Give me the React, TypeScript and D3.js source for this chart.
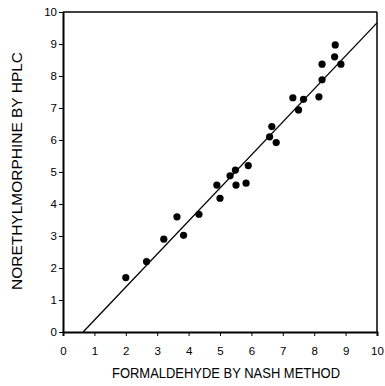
import { useEffect, useRef } from 'react';
import * as d3 from 'd3';

// Nash method (x) vs HPLC (y) values
const nashValues = [2.0, 2.66, 3.21, 3.63, 3.84, 4.33, 5.0, 4.9, 5.32, 5.49, 5.51, 5.83, 5.9, 6.58, 6.79, 6.65, 7.32, 7.5, 7.66, 8.15, 8.25, 8.25, 8.67, 8.65, 8.85];
const hplcValues = [1.7, 2.2, 2.9, 3.6, 3.02, 3.68, 4.18, 4.59, 4.88, 5.06, 4.59, 4.65, 5.2, 6.1, 5.92, 6.42, 7.32, 6.94, 7.27, 7.35, 7.88, 8.37, 8.97, 8.6, 8.37];
const xTicks = [0, 1, 2, 3, 4, 5, 6, 7, 8, 9, 10];
const yTicks = [0, 1, 2, 3, 4, 5, 6, 7, 8, 9, 10];
// fitted line end points (x, y)
const fitLine: [number, number][] = [[0.64, 0], [10, 9.66]];

const App = () => {
    const svgRef = useRef<SVGSVGElement>(null);

    useEffect(() => {
        const width = 385;
        const height = 386;
        const margin = { top: 12, right: 8, bottom: 54, left: 63 };

        const svg = d3.select(svgRef.current)
            .attr('width', width)
            .attr('height', height);
        svg.selectAll('*').remove();

        const x = d3.scaleLinear()
            .domain([0, 10])
            .range([margin.left, width - margin.right]);
        const y = d3.scaleLinear()
            .domain([0, 10])
            .range([height - margin.bottom, margin.top]);

        const font = 'Liberation Sans, Arial, sans-serif';

        // frame
        svg.append('line')
            .attr('x1', x(0)).attr('x2', x(10)).attr('y1', y(10)).attr('y2', y(10))
            .attr('stroke', '#000').attr('stroke-width', 1.5);
        svg.append('line')
            .attr('x1', x(10)).attr('x2', x(10)).attr('y1', y(10)).attr('y2', y(0))
            .attr('stroke', '#000').attr('stroke-width', 1.5);

        // x axis
        const xAxis = svg.append('g')
            .attr('transform', `translate(0,${y(0)})`)
            .call(d3.axisBottom(x).tickValues(xTicks).tickSize(4).tickPadding(11).tickFormat(d3.format('d')));
        xAxis.select('.domain').attr('stroke-width', 2);
        xAxis.selectAll('text')
            .style('font-size', '11.5px')
            .style('font-family', font)
            .style('fill', '#000');

        // y axis
        const yAxis = svg.append('g')
            .attr('transform', `translate(${x(0)},0)`)
            .call(d3.axisLeft(y).tickValues(yTicks).tickSize(4).tickPadding(2).tickSizeOuter(0).tickFormat(d3.format('d')));
        yAxis.select('.domain').attr('stroke-width', 2);
        yAxis.selectAll('text')
            .style('font-size', '11.5px')
            .style('font-family', font)
            .style('fill', '#000');

        // regression line
        svg.append('path')
            .datum(fitLine)
            .attr('fill', 'none')
            .attr('stroke', '#000')
            .attr('stroke-width', 1.3)
            .attr('d', d3.line<[number, number]>().x(d => x(d[0])).y(d => y(d[1])));

        // points
        svg.selectAll('.dot')
            .data(nashValues.map((v, i) => [v, hplcValues[i]]))
            .enter().append('circle')
            .attr('class', 'dot')
            .attr('cx', d => x(d[0]))
            .attr('cy', d => y(d[1]))
            .attr('r', 3.6)
            .attr('fill', '#000');

        // axis titles
        svg.append('text')
            .attr('x', 226)
            .attr('y', 378)
            .attr('text-anchor', 'middle')
            .attr('textLength', 228)
            .attr('lengthAdjust', 'spacingAndGlyphs')
            .style('font-size', '14px')
            .style('font-family', font)
            .text('FORMALDEHYDE BY NASH METHOD');

        svg.append('text')
            .attr('transform', `translate(22,171) rotate(-90)`)
            .attr('text-anchor', 'middle')
            .attr('textLength', 238)
            .attr('lengthAdjust', 'spacingAndGlyphs')
            .style('font-size', '14px')
            .style('font-family', font)
            .text('NORETHYLMORPHINE BY HPLC');
    }, []);

    return (
        <div style={{ position: 'absolute', left: 0, top: 0 }}>
            <svg ref={svgRef}></svg>
        </div>
    );
};

export default App;
